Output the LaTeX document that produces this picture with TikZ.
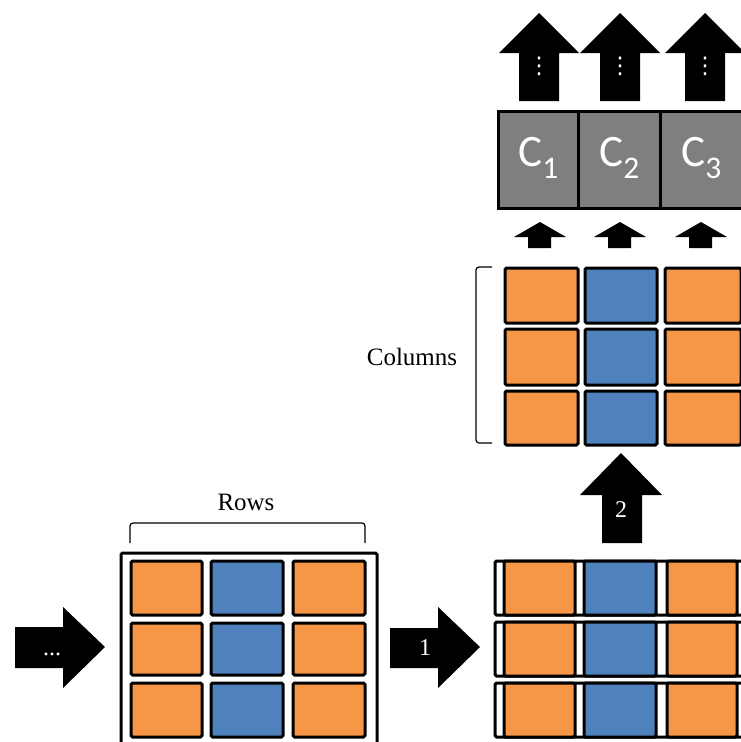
\documentclass[tikz,border=0pt]{standalone}
\usepackage{fontspec}
\setmainfont{Liberation Serif}
\newfontfamily\cfont{Carlito}
\newfontfamily\dvfont{DejaVu Sans}
\definecolor{cellorange}{HTML}{F79646}
\definecolor{cellblue}{HTML}{4F81BD}
\definecolor{cellgray}{HTML}{7F7F7F}
\begin{document}
\begin{tikzpicture}[x=1pt,y=-1pt,
  cellbox/.style={draw=black,line width=3pt,rounded corners=1.5pt},
  ocell/.style={cellbox,fill=cellorange},
  bcell/.style={cellbox,fill=cellblue},
  gcell/.style={draw=black,line width=3pt,fill=cellgray},
  framebox/.style={draw=black,line width=3pt,fill=white,rounded corners=1.5pt},
  blockarrow/.style={fill=black},
  lbl/.style={font=\fontsize{25}{30}\selectfont},
  arrlbl/.style={text=white,font=\fontsize{24}{28}\selectfont},
  clbl/.style={text=white,font=\cfont\fontsize{45}{48}\selectfont},
  vdlbl/.style={text=white,font=\dvfont\fontsize{23}{25}\selectfont,inner sep=0pt},
  brace/.style={draw=black,line width=1.2pt,rounded corners=3pt}]
\useasboundingbox (0,0) rectangle (741,742);
\clip (0,0) rectangle (741,742);
\fill[white] (0,0) rectangle (741,742);

% ---------- top big arrows ----------
\foreach \cx/\n in {539/1,620/2,705/3}{
  \fill[blockarrow] (\cx-20,101) -- (\cx-20,53) -- (\cx-40,53) -- (\cx,13) -- (\cx+40,53) -- (\cx+20,53) -- (\cx+20,101) -- cycle;
  \node[vdlbl] (vd\n) at (\cx,66) {⋮};
}

% ---------- C boxes ----------
\node[gcell,minimum width=80pt,minimum height=97pt,inner sep=0pt,anchor=north west] (c1) at (497,110) {};
\node[gcell,minimum width=82pt,minimum height=97pt,inner sep=0pt,anchor=north west] (c2) at (577,110) {};
\node[gcell,minimum width=82pt,minimum height=97pt,inner sep=0pt,anchor=north west] (c3) at (659,110) {};
\node[clbl] (t1) at ([yshift=2pt]c1.center) {C\textsubscript{1}};
\node[clbl] (t2) at ([yshift=2pt]c2.center) {C\textsubscript{2}};
\node[clbl] (t3) at ([yshift=2pt]c3.center) {C\textsubscript{3}};

% ---------- small arrows ----------
\foreach \cx/\hw/\sl/\sr in {540/26/528/551,620/26/608/631,701/26/689/712}{
  \fill[blockarrow] (\sl,248) -- (\sl,237) -- (\cx-\hw,237) -- (\cx,222) -- (\cx+\hw,237) -- (\sr,237) -- (\sr,248) -- cycle;
}

% ---------- columns grid ----------
\foreach \r/\ya/\yb in {1/265/323,2/326/385,3/388/445}{
  \node[ocell,minimum width=73pt,minimum height=\yb-\ya-3,anchor=north west,inner sep=0pt] (ca\r) at (503.5,\ya+1.5) {};
  \node[bcell,minimum width=72pt,minimum height=\yb-\ya-3,anchor=north west,inner sep=0pt] (cb\r) at (583.5,\ya+1.5) {};
  \node[ocell,minimum width=76pt,minimum height=\yb-\ya-3,anchor=north west,inner sep=0pt] (cc\r) at (663.5,\ya+1.5) {};
}
\draw[brace] (492,267) -- (476,267) -- (476,443) -- (492,443);
\node[lbl] (columns) at (412,357) {Columns};

% ---------- arrow 2 ----------
\fill[blockarrow] (602,543) -- (602,495) -- (580,495) -- (621,453) -- (662,495) -- (642,495) -- (642,543) -- cycle;
\node[arrlbl] (two) at (621,510) {2};

% ---------- left arrow ----------
\fill[blockarrow] (15,627) -- (63,627) -- (63,607) -- (105,647) -- (63,688) -- (63,668) -- (15,668) -- cycle;
\node[arrlbl,inner sep=0pt] (dots) at (52,654) {...};

% ---------- rows grid ----------
\node[framebox,minimum width=256pt,minimum height=210pt,anchor=north west,inner sep=0pt] (frame) at (119.5,551.5) {};
\foreach \r/\ya/\yb in {1/558/615,2/620/675,3/680/737}{
  \node[ocell,minimum width=71pt,minimum height=\yb-\ya-3,anchor=north west,inner sep=0pt] (ra\r) at (129.5,\ya+1.5) {};
  \node[bcell,minimum width=72pt,minimum height=\yb-\ya-3,anchor=north west,inner sep=0pt] (rb\r) at (209.5,\ya+1.5) {};
  \node[ocell,minimum width=72pt,minimum height=\yb-\ya-3,anchor=north west,inner sep=0pt] (rc\r) at (291.5,\ya+1.5) {};
}
\draw[brace] (130,543) -- (130,523) -- (365,523) -- (365,543);
\node[lbl] (rows) at (246,502) {Rows};

% ---------- arrow 1 ----------
\fill[blockarrow] (390,628) -- (438,628) -- (438,607) -- (480,647) -- (438,688) -- (438,668) -- (390,668) -- cycle;
\node[arrlbl] (one) at (425,648) {1};

% ---------- right grid (rows split) ----------
\foreach \r/\ya/\yb in {1/558/615,2/619/676,3/680/737}{
  \node[framebox,minimum width=270pt,minimum height=\yb-\ya-3,anchor=north west,inner sep=0pt] (rr\r) at (493.5,\ya+1.5) {};
  \node[ocell,minimum width=71pt,minimum height=\yb-\ya-3,anchor=north west,inner sep=0pt] (sa\r) at (502.5,\ya+1.5) {};
  \node[bcell,minimum width=72pt,minimum height=\yb-\ya-3,anchor=north west,inner sep=0pt] (sb\r) at (582.5,\ya+1.5) {};
  \node[ocell,minimum width=70pt,minimum height=\yb-\ya-3,anchor=north west,inner sep=0pt] (sc\r) at (665.5,\ya+1.5) {};
}
\end{tikzpicture}
\end{document}
